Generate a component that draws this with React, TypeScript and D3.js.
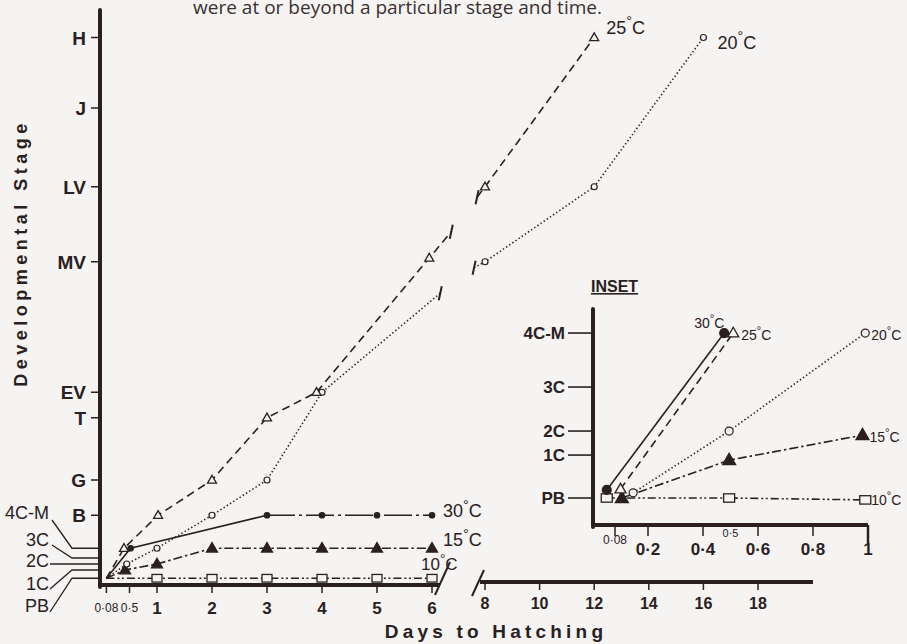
import React from 'react';
import * as d3 from 'd3';

// ---------- stage axis (main chart) ----------
const stageNames = ['PB', '1C', '2C', '3C', '4C-M', 'B', 'G', 'T', 'EV', 'MV', 'LV', 'J', 'H'];
const stageLevels = [0.9, 2, 2.8, 3.6, 4.9, 9.3, 14, 22.3, 25.7, 43.1, 53.1, 63.6, 73];
const boldStageTicks = ['B', 'G', 'T', 'EV', 'MV', 'LV', 'J', 'H'];
const leaderStages = ['4C-M', '3C', '2C', '1C', 'PB'];

// ---------- x axis (main chart) ----------
const leftTicks = [0.08, 0.5, 1, 2, 3, 4, 5, 6];
const leftTickLabels = ['0·08', '0·5', '1', '2', '3', '4', '5', '6'];
const rightTicks = [8, 10, 12, 14, 16, 18];

// ---------- series (main chart) ----------
const days25a = [0.08, 0.4, 1.02, 2, 3, 3.9, 5.95];
const stage25a: (string | number)[] = ['PB', '4C-M', 'B', 'G', 'T', 'EV', 43.6];
const break25 = [6.35, 47.1, 7.71, 51.7];
const days25b = [8, 12];
const stage25b = ['LV', 'H'];

const days20a = [0.08, 0.45, 1, 2, 3, 4];
const stage20a = ['PB', '2C', '4C-M', 'B', 'G', 'EV'];
const break20 = [6.15, 38.9, 7.6, 42.3];
const days20b = [8, 12, 16];
const stage20b = ['MV', 'LV', 'H'];

const days30 = [0.08, 0.52, 3, 4, 5, 6];
const stage30 = ['PB', '4C-M', 'B', 'B', 'B', 'B'];

const days15 = [0.08, 0.42, 1, 2, 3, 4, 5, 6];
const stage15 = ['PB', '1C', '2C', '4C-M', '4C-M', '4C-M', '4C-M', '4C-M'];

const days10 = [0.08, 1, 2, 3, 4, 5, 6];
const stage10 = ['PB', 'PB', 'PB', 'PB', 'PB', 'PB', 'PB'];

// ---------- inset ----------
const insetStageNames = ['PB', '1C', '2C', '3C', '4C-M'];
const insetStageLevels = [1.0, 2.59, 3.48, 5.11, 7.11];
const insetTicks = [0.08, 0.2, 0.4, 0.6, 0.8, 1];
const insetTickLabels = ['0·08', '0·2', '0·4', '0·6', '0·8', '1'];

const inDays30 = [0.05, 0.477];
const inStage30: (string | number)[] = [1.3, '4C-M'];
const inDays25 = [0.1, 0.51];
const inStage25: (string | number)[] = [1.33, '4C-M'];
const inDays20 = [0.146, 0.495, 0.99];
const inStage20: (string | number)[] = [1.19, '2C', '4C-M'];
const inDays15 = [0.105, 0.495, 0.98];
const inStage15: (string | number)[] = ['PB', 2.4, 3.33];
const inDays10 = [0.05, 0.495, 0.99];
const inStage10: (string | number)[] = ['PB', 'PB', 0.93];

const ink = '#2a2021';
const bg = '#f5f4f2';
const sans = '"Liberation Sans", Arial, sans-serif';

const dash25 = '8,5';
const dash20 = '1.4,2.4';
const dash30 = '28,4,3,4';
const dash15 = '9,3,2.5,3';
const dash10 = '8,3,2,2.5,2,3';

type Pt = [number, number];

function Marker({ type, x, y, s }: { type: string; x: number; y: number; s: number }) {
  if (type === 'triO' || type === 'triF') {
    const h = s * 0.87;
    const d = `M${x},${y - h * 0.6}L${x + s / 2},${y + h * 0.4}L${x - s / 2},${y + h * 0.4}Z`;
    return <path d={d} fill={type === 'triF' ? ink : bg} stroke={ink} strokeWidth={1.3} />;
  }
  if (type === 'circO' || type === 'circF') {
    return <circle cx={x} cy={y} r={s / 2} fill={type === 'circF' ? ink : bg} stroke={ink} strokeWidth={1.2} />;
  }
  return <rect x={x - s / 2} y={y - s * 0.38} width={s} height={s * 0.76} fill={bg} stroke={ink} strokeWidth={1.3} />;
}

function Deg({ n, x, y, size, anchor = 'start' }: { n: string; x: number; y: number; size: number; anchor?: string }) {
  return (
    <text x={x} y={y} fontFamily={sans} fontSize={size} fill={ink} textAnchor={anchor as any}>
      {n}
      <tspan dy={-size * 0.42} fontSize={size * 0.8}>°</tspan>
      <tspan dy={size * 0.42}>C</tspan>
    </text>
  );
}

export default function App() {
  const xL = d3.scaleLinear().domain([0, 6]).range([102, 432]);
  const xR = d3.scaleLinear().domain([8, 18]).range([485, 758]);
  const y = d3.scaleLinear().domain([0, 73]).range([585, 37.5]);
  const mv = (s: string | number) => (typeof s === 'number' ? s : stageLevels[stageNames.indexOf(s)]);

  const xI = d3.scaleLinear().domain([0, 1]).range([593, 868]);
  const yI = d3.scaleLinear().domain([0, 8]).range([525, 309]);
  const iv = (s: string | number) => (typeof s === 'number' ? s : insetStageLevels[insetStageNames.indexOf(s)]);

  const line = d3.line<Pt>();

  const ptsL = (days: number[], st: (string | number)[]): Pt[] => days.map((d, i) => [xL(d), y(mv(st[i]))]);
  const ptsR = (days: number[], st: (string | number)[]): Pt[] => days.map((d, i) => [xR(d), y(mv(st[i]))]);
  const ptsI = (days: number[], st: (string | number)[]): Pt[] => days.map((d, i) => [xI(d), yI(iv(st[i]))]);

  const p25a = ptsL(days25a, stage25a);
  const b25L: Pt = [xL(break25[0]), y(break25[1])];
  const b25R: Pt = [xR(break25[2]), y(break25[3])];
  const p25b = ptsR(days25b, stage25b);

  const p20a = ptsL(days20a, stage20a);
  const b20L: Pt = [xL(break20[0]), y(break20[1])];
  const b20R: Pt = [xR(break20[2]), y(break20[3])];
  const p20b = ptsR(days20b, stage20b);

  const p30 = ptsL(days30, stage30);
  const p15 = ptsL(days15, stage15);
  const p10 = ptsL(days10, stage10);

  const i30 = ptsI(inDays30, inStage30);
  const i25 = ptsI(inDays25, inStage25);
  const i20 = ptsI(inDays20, inStage20);
  const i15 = ptsI(inDays15, inStage15);
  const i10 = ptsI(inDays10, inStage10);

  const lw = 1.6;
  const breakMark = (p: Pt, k: string) => (
    <line key={k} x1={p[0] + 1.5} y1={p[1] - 7} x2={p[0] - 1.5} y2={p[1] + 7} stroke={ink} strokeWidth={2} />
  );

  const axisY0 = y(0) + 2;
  const axisTop = 10;
  const leaderLabelY = [513, 540, 561, 584, 606];
  const leaderStart: Pt[] = [[52, 520], [52, 545], [50, 564], [50, 589], [50, 612]];

  const last = (a: Pt[]) => a[a.length - 1];

  return (
    <div style={{ position: 'absolute', left: 0, top: 0, width: 907, height: 644, background: bg }}>
      <svg width={907} height={644} style={{ display: 'block' }}>
        <rect width={907} height={644} fill={bg} />

        {/* caption fragment */}
        <text x={193} y={14} fontFamily='"Open Sans", sans-serif' fontSize={19} fill="#3a3030"
          textLength={409} lengthAdjust="spacingAndGlyphs">were at or beyond a particular stage and time.</text>

        {/* ---------- main axes ---------- */}
        <line x1={100} y1={axisY0} x2={100} y2={axisTop} stroke={ink} strokeWidth={4} strokeLinecap="round" />
        <line x1={100} y1={585} x2={440} y2={585} stroke={ink} strokeWidth={4} />
        <line x1={480} y1={582} x2={813} y2={582} stroke={ink} strokeWidth={4} />
        {/* break slashes */}
        <line x1={435} y1={595} x2={450} y2={562} stroke={ink} strokeWidth={2} />
        <line x1={472} y1={596} x2={484} y2={570} stroke={ink} strokeWidth={2} />

        {/* y ticks (bold) */}
        {boldStageTicks.map(s => (
          <g key={s}>
            <line x1={91} x2={100} y1={y(mv(s))} y2={y(mv(s))} stroke={ink} strokeWidth={1.5} />
            <text x={86} y={y(mv(s)) + 7} textAnchor="end" fontFamily={sans} fontWeight="bold" fontSize={19} fill={ink}>{s}</text>
          </g>
        ))}
        {/* leader-labelled stages */}
        {leaderStages.map((s, i) => {
          const yy = y(mv(s));
          const st = leaderStart[i];
          const pts: Pt[] = Math.abs(st[1] - yy) < 2 ? [[st[0], yy], [100, yy]] : [st, [72, yy], [100, yy]];
          return (
            <g key={s}>
              <path d={line(pts) || ''} fill="none" stroke={ink} strokeWidth={1.3} />
              <text x={49} y={leaderLabelY[i] + 6} textAnchor="end" fontFamily={sans} fontSize={18} fill={ink}>{s}</text>
            </g>
          );
        })}

        {/* x ticks */}
        {leftTicks.map((t, i) => (
          <g key={'lt' + t}>
            <line x1={xL(t)} x2={xL(t)} y1={585} y2={593} stroke={ink} strokeWidth={1.5} />
            <text x={xL(t)} y={i < 2 ? 612 : 614} textAnchor="middle" fontFamily={sans}
              fontWeight={i < 2 ? 'normal' : 'bold'} fontSize={i < 2 ? 12 : 17} fill={ink}>{leftTickLabels[i]}</text>
          </g>
        ))}
        {rightTicks.map(t => (
          <g key={'rt' + t}>
            <line x1={xR(t)} x2={xR(t)} y1={582} y2={590} stroke={ink} strokeWidth={1.5} />
            <text x={xR(t)} y={609} textAnchor="middle" fontFamily={sans} fontWeight="bold" fontSize={16} fill={ink}>{t}</text>
          </g>
        ))}

        {/* axis titles */}
        <text x={496} y={638} textAnchor="middle" fontFamily={sans} fontWeight="bold" fontSize={19} letterSpacing={4.2} fill={ink}>Days to Hatching</text>
        <text transform="translate(27,253) rotate(-90)" textAnchor="middle" fontFamily={sans} fontWeight="bold" fontSize={18} letterSpacing={4.5} fill={ink}>Developmental Stage</text>

        {/* ---------- main series ---------- */}
        {/* 10 °C */}
        <path d={line(p10) || ''} fill="none" stroke={ink} strokeWidth={lw} strokeDasharray={dash10} />
        {p10.slice(1).map((p, i) => <Marker key={'m10' + i} type="sqO" x={p[0]} y={p[1]} s={10} />)}
        {/* 15 °C */}
        <path d={line(p15) || ''} fill="none" stroke={ink} strokeWidth={lw} strokeDasharray={dash15} />
        {p15.slice(1).map((p, i) => <Marker key={'m15' + i} type="triF" x={p[0]} y={p[1]} s={11} />)}
        {/* 30 °C */}
        <path d={line(p30.slice(0, 3)) || ''} fill="none" stroke={ink} strokeWidth={lw} />
        <path d={line(p30.slice(2)) || ''} fill="none" stroke={ink} strokeWidth={lw} strokeDasharray={dash30} />
        {p30.slice(1).map((p, i) => <Marker key={'m30' + i} type="circF" x={p[0]} y={p[1]} s={5.5} />)}
        {/* 20 °C */}
        <path d={line([...p20a, b20L]) || ''} fill="none" stroke={ink} strokeWidth={lw} strokeDasharray={dash20} />
        <path d={line([b20R, ...p20b]) || ''} fill="none" stroke={ink} strokeWidth={lw} strokeDasharray={dash20} />
        {[...p20a.slice(1), ...p20b].map((p, i) => <Marker key={'m20' + i} type="circO" x={p[0]} y={p[1]} s={6} />)}
        {breakMark(b20L, 'b20l')}
        {breakMark(b20R, 'b20r')}
        {/* 25 °C */}
        <path d={line([...p25a, b25L]) || ''} fill="none" stroke={ink} strokeWidth={lw} strokeDasharray={dash25} />
        <path d={line([b25R, ...p25b]) || ''} fill="none" stroke={ink} strokeWidth={lw} strokeDasharray={dash25} />
        {[...p25a.slice(1), ...p25b].map((p, i) => <Marker key={'m25' + i} type="triO" x={p[0]} y={p[1]} s={9} />)}
        {breakMark(b25L, 'b25l')}
        {breakMark(b25R, 'b25r')}

        {/* series labels */}
        <Deg n="25" x={last(p25b)[0] + 12} y={last(p25b)[1] - 4} size={18} />
        <Deg n="20" x={last(p20b)[0] + 14} y={last(p20b)[1] + 11} size={18} />
        <Deg n="30" x={last(p30)[0] + 11} y={last(p30)[1] + 2} size={18} />
        <Deg n="15" x={last(p15)[0] + 11} y={last(p15)[1] - 2} size={18} />
        <Deg n="10" x={last(p10)[0] - 11} y={last(p10)[1] - 8} size={17} />

        {/* ---------- inset ---------- */}
        <text x={591} y={292} fontFamily={sans} fontWeight="bold" fontSize={16} fill={ink} textDecoration="underline">INSET</text>
        <line x1={593} y1={527} x2={593} y2={309} stroke={ink} strokeWidth={4} strokeLinecap="round" />
        <line x1={593} y1={525} x2={868} y2={525} stroke={ink} strokeWidth={4} />
        {insetStageNames.map(s => (
          <g key={'is' + s}>
            <line x1={568} x2={593} y1={yI(iv(s))} y2={yI(iv(s))} stroke={ink} strokeWidth={1.6} />
            <text x={565} y={yI(iv(s)) + 6} textAnchor="end" fontFamily={sans} fontWeight="bold" fontSize={17} fill={ink}>{s}</text>
          </g>
        ))}
        {insetTicks.map((t, i) => (
          <g key={'it' + t}>
            <line x1={xI(t)} x2={xI(t)} y1={525} y2={t === 1 ? 543 : 536} stroke={ink} strokeWidth={t === 1 ? 2.5 : 1.5} />
            <text x={xI(t)} y={i === 0 ? 544 : 555} textAnchor="middle" fontFamily={sans}
              fontWeight={i === 0 ? 'normal' : 'bold'} fontSize={i === 0 ? 12 : 17} fill={ink}>{insetTickLabels[i]}</text>
          </g>
        ))}
        <text x={xI(0.5)} y={537} textAnchor="middle" fontFamily={sans} fontSize={11} fill={ink}>0·5</text>

        <path d={line(i10) || ''} fill="none" stroke={ink} strokeWidth={lw} strokeDasharray={dash10} />
        <path d={line(i15) || ''} fill="none" stroke={ink} strokeWidth={lw} strokeDasharray={dash15} />
        <path d={line(i20) || ''} fill="none" stroke={ink} strokeWidth={lw} strokeDasharray={dash20} />
        <path d={line(i25) || ''} fill="none" stroke={ink} strokeWidth={lw} strokeDasharray={dash25} />
        <path d={line(i30) || ''} fill="none" stroke={ink} strokeWidth={lw} />
        {i10.map((p, i) => <Marker key={'i10' + i} type="sqO" x={p[0]} y={p[1]} s={11} />)}
        {i15.map((p, i) => <Marker key={'i15' + i} type="triF" x={p[0]} y={p[1]} s={13} />)}
        {i20.map((p, i) => <Marker key={'i20' + i} type="circO" x={p[0]} y={p[1]} s={8} />)}
        {i25.map((p, i) => <Marker key={'i25' + i} type="triO" x={p[0]} y={p[1]} s={11} />)}
        {i30.map((p, i) => <Marker key={'i30' + i} type="circF" x={p[0]} y={p[1]} s={9} />)}

        <Deg n="30" x={last(i30)[0] - 30} y={last(i30)[1] - 5} size={14} />
        <Deg n="25" x={last(i25)[0] + 8} y={last(i25)[1] + 7} size={14} />
        <Deg n="20" x={last(i20)[0] + 6} y={last(i20)[1] + 7} size={14} />
        <Deg n="15" x={last(i15)[0] + 7} y={last(i15)[1] + 7} size={14} />
        <Deg n="10" x={last(i10)[0] + 6} y={last(i10)[1] + 5} size={14} />
      </svg>
    </div>
  );
}
